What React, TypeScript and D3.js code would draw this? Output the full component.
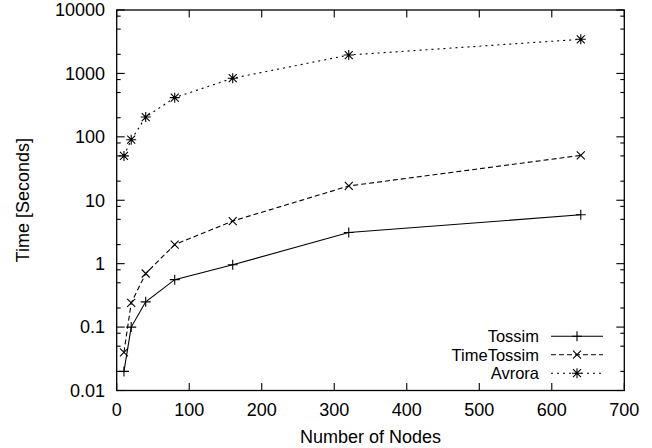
import React from "react";
import * as d3 from "d3";

const nodes = [10, 20, 40, 80, 160, 320, 640];
const tossim = [0.02, 0.1, 0.25, 0.56, 0.96, 3.1, 5.9];
const timeTossim = [0.04, 0.24, 0.7, 2.0, 4.7, 16.8, 51];
const avrora = [50, 90, 205, 415, 840, 1950, 3450];
const seriesNames = ["Tossim", "TimeTossim", "Avrora"];
const xTicks = [0, 100, 200, 300, 400, 500, 600, 700];
const yTicks = [0.01, 0.1, 1, 10, 100, 1000, 10000];
const yTickLabels = ["0.01", "0.1", "1", "10", "100", "1000", "10000"];
const minorMultipliers = [2, 5, 8];

const W = 652;
const H = 448;
const L = 116.7, R = 624.3, T = 10, B = 390.5;
const FONT = "'Liberation Sans', Arial, Helvetica, sans-serif";

type MarkerKind = "plus" | "cross" | "star";

function Marker({ x, y, kind }: { x: number; y: number; kind: MarkerKind }) {
  const p = 5;
  const c = 4;
  const parts: string[] = [];
  if (kind === "plus" || kind === "star") {
    parts.push(`M${x - p},${y}H${x + p}M${x},${y - p}V${y + p}`);
  }
  if (kind === "cross" || kind === "star") {
    parts.push(`M${x - c},${y - c}L${x + c},${y + c}M${x - c},${y + c}L${x + c},${y - c}`);
  }
  return <path d={parts.join("")} stroke="#000" strokeWidth={1.1} fill="none" />;
}

export default function App() {
  const x = d3.scaleLinear().domain([0, 700]).range([L, R]);
  const y = d3.scaleLog().domain([0.01, 10000]).range([B, T]);

  const series = [
    { name: seriesNames[0], values: tossim, dash: undefined as string | undefined, kind: "plus" as MarkerKind },
    { name: seriesNames[1], values: timeTossim, dash: "5,3", kind: "cross" as MarkerKind },
    { name: seriesNames[2], values: avrora, dash: "2,4", kind: "star" as MarkerKind },
  ];

  const line = d3
    .line<number>()
    .x((_, i) => x(nodes[i]))
    .y((v) => y(v));

  const minorTicks: number[] = [];
  yTicks.slice(0, -1).forEach((t) => minorMultipliers.forEach((m) => minorTicks.push(t * m)));

  const legendY = [336.2, 354.7, 373.2];

  return (
    <svg
      width={W}
      height={H}
      viewBox={`0 0 ${W} ${H}`}
      style={{ position: "absolute", left: 0, top: 0, background: "#fff" }}
      fontFamily={FONT}
    >
      <rect x={0} y={0} width={W} height={H} fill="#fff" />
      {/* x ticks */}
      {xTicks.map((t) => (
        <g key={"x" + t}>
          <line x1={x(t)} x2={x(t)} y1={B} y2={B - 7.5} stroke="#000" strokeWidth={1.1} />
          <line x1={x(t)} x2={x(t)} y1={T} y2={T + 7.5} stroke="#000" strokeWidth={1.1} />
          <text x={x(t)} y={416} fontSize={18} textAnchor="middle" fill="#000">
            {t}
          </text>
        </g>
      ))}
      {/* y ticks */}
      {yTicks.map((t, i) => (
        <g key={"y" + t}>
          <line x1={L} x2={L + 8} y1={y(t)} y2={y(t)} stroke="#000" strokeWidth={1.1} />
          <line x1={R} x2={R - 8} y1={y(t)} y2={y(t)} stroke="#000" strokeWidth={1.1} />
          <text x={105} y={y(t) + 6.4} fontSize={18} textAnchor="end" fill="#000">
            {yTickLabels[i]}
          </text>
        </g>
      ))}
      {minorTicks.map((t) => (
        <g key={"m" + t}>
          <line x1={L} x2={L + 4} y1={y(t)} y2={y(t)} stroke="#000" strokeWidth={1.1} />
          <line x1={R} x2={R - 4} y1={y(t)} y2={y(t)} stroke="#000" strokeWidth={1.1} />
        </g>
      ))}
      {/* series */}
      {series.map((s) => (
        <g key={s.name}>
          <path d={line(s.values) || ""} fill="none" stroke="#000" strokeWidth={1.1} strokeDasharray={s.dash} />
          {s.values.map((v, i) => (
            <Marker key={i} x={x(nodes[i])} y={y(v)} kind={s.kind} />
          ))}
        </g>
      ))}
      {/* legend */}
      {series.map((s, i) => (
        <g key={"lg" + s.name}>
          <text x={539} y={legendY[i] + 6} fontSize={16.5} textAnchor="end" fill="#000">
            {s.name}
          </text>
          <line x1={551} x2={603} y1={legendY[i]} y2={legendY[i]} stroke="#000" strokeWidth={1.1} strokeDasharray={s.dash} />
          <Marker x={577} y={legendY[i]} kind={s.kind} />
        </g>
      ))}
      {/* border */}
      <rect x={L} y={T} width={R - L} height={B - T} fill="none" stroke="#000" strokeWidth={1.3} />
      {/* axis titles */}
      <text x={(L + R) / 2} y={443} fontSize={18} textAnchor="middle" fill="#000">
        Number of Nodes
      </text>
      <text
        transform={`translate(29,${(T + B) / 2}) rotate(-90)`}
        fontSize={18}
        textAnchor="middle"
        fill="#000"
      >
        Time [Seconds]
      </text>
    </svg>
  );
}
